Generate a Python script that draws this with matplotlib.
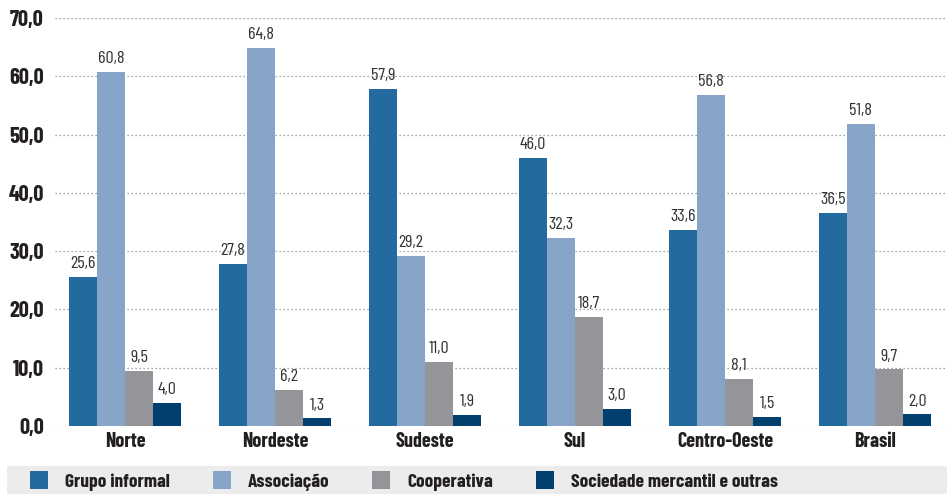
import matplotlib
matplotlib.use("Agg")
import matplotlib.pyplot as plt
from matplotlib.patches import Rectangle
import numpy as np

plt.rcParams['font.family'] = ['Barlow Condensed', 'DejaVu Sans']

regioes = ['Norte', 'Nordeste', 'Sudeste', 'Sul', 'Centro-Oeste', 'Brasil']
series = ['Grupo informal', 'Associação', 'Cooperativa', 'Sociedade mercantil e outras']
grupo_informal = [25.6, 27.8, 57.9, 46.0, 33.6, 36.5]
associacao = [60.8, 64.8, 29.2, 32.3, 56.8, 51.8]
cooperativa = [9.5, 6.2, 11.0, 18.7, 8.1, 9.7]
sociedade = [4.0, 1.3, 1.9, 3.0, 1.5, 2.0]
valores = [grupo_informal, associacao, cooperativa, sociedade]
cores = ['#236a9e', '#87a5c8', '#939598', '#003f6e']

W, H = 947, 494
fig = plt.figure(figsize=(W / 100, H / 100), dpi=100)
ax = fig.add_axes([55 / W, 68 / H, (W - 55) / W, 408 / H])

x = np.arange(len(regioes))
larg = 0.187
for i, (vals, cor) in enumerate(zip(valores, cores)):
    pos = x + (i - 1.5) * larg
    ax.bar(pos, vals, larg, color=cor, zorder=3)
    for px, v in zip(pos, vals):
        ax.text(px, v + 1.0, f'{v:.1f}'.replace('.', ','), ha='center', va='bottom',
                fontsize=13, color='#333333', clip_on=False)

ax.set_xlim(-0.467, 5.48)
ax.set_ylim(0, 70)
ax.set_yticks(np.arange(0, 71, 10))
ax.set_yticklabels([f'{t:.1f}'.replace('.', ',') for t in np.arange(0, 71, 10)],
                   fontsize=16, fontweight='bold', color='#231f20')
ax.set_xticks(x)
ax.set_xticklabels(regioes, fontsize=14.5, fontweight='bold', color='#231f20')
ax.tick_params(length=0)
ax.tick_params(axis='y', pad=8)
ax.tick_params(axis='x', pad=4)
for s in ax.spines.values():
    s.set_visible(False)
ax.yaxis.grid(True, linestyle=(0, (1, 2.2)), color='#888888', linewidth=0.9, zorder=0)
ax.set_axisbelow(True)

# faixa da legenda
fig.patches.append(Rectangle((7 / W, 0), (W - 7) / W, 28 / H, transform=fig.transFigure,
                             facecolor='#ececec', edgecolor='none'))
leg_x = [30, 213, 372, 536]
for lx, nome, cor in zip(leg_x, series, cores):
    fig.patches.append(Rectangle((lx / W, 5 / H), 18 / W, 18 / H, transform=fig.transFigure,
                                 facecolor=cor, edgecolor='none'))
    fig.text((lx + 35) / W, 12 / H, nome, fontsize=14, fontweight='bold',
             color='#231f20', va='center', ha='left')

fig.savefig('out.png', dpi=100)
